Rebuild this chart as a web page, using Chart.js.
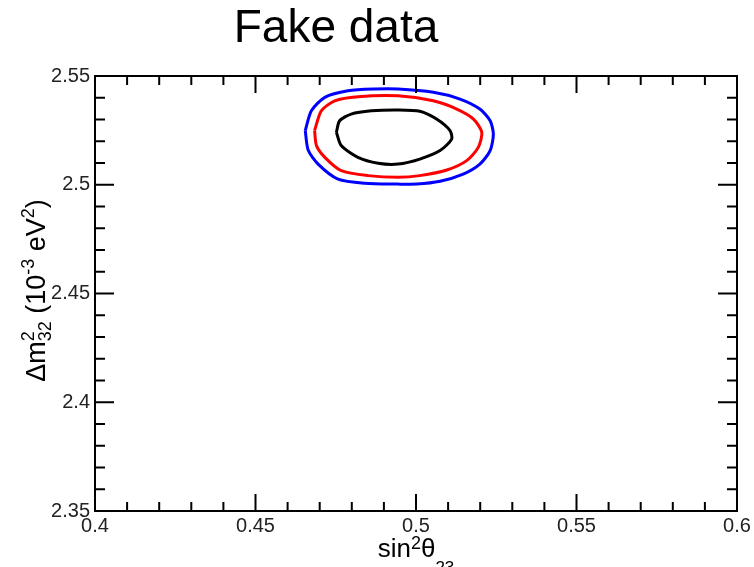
<!DOCTYPE html>
<html>
<head>
<meta charset="utf-8">
<script src="https://cdn.jsdelivr.net/npm/chart.js@4"></script>
<style>
  body { margin: 0; background: #fff; }
  canvas { display: block; }
</style>
</head>
<body>
<canvas id="grafico" width="754" height="567"></canvas>
<script>
// contornos (sin^2 theta23, dm^2_32)
const outerX = [0.4655, 0.4674, 0.4716, 0.4788, 0.4871, 0.4944, 0.5054, 0.5137, 0.5199, 0.5231, 0.5241, 0.5231, 0.5199, 0.5147, 0.5075, 0.5002, 0.4944, 0.4840, 0.4757, 0.4695, 0.4664, 0.4655];
const outerY = [2.5249, 2.5340, 2.5402, 2.5432, 2.5440, 2.5440, 2.5425, 2.5394, 2.5348, 2.5294, 2.5233, 2.5157, 2.5095, 2.5049, 2.5016, 2.5003, 2.5003, 2.5007, 2.5026, 2.5095, 2.5160, 2.5249];

const middleX = [0.4684, 0.4705, 0.4747, 0.4819, 0.4944, 0.5054, 0.5127, 0.5179, 0.5205, 0.5194, 0.5158, 0.5096, 0.5012, 0.4944, 0.4850, 0.4767, 0.4716, 0.4690, 0.4684];
const middleY = [2.5249, 2.5340, 2.5386, 2.5405, 2.5409, 2.5386, 2.5348, 2.5302, 2.5241, 2.5172, 2.5111, 2.5068, 2.5042, 2.5034, 2.5042, 2.5065, 2.5126, 2.5180, 2.5249];

const innerX = [0.4752, 0.4762, 0.4798, 0.4861, 0.4944, 0.5012, 0.5064, 0.5106, 0.5111, 0.5075, 0.5012, 0.4944, 0.4882, 0.4819, 0.4767, 0.4752];
const innerY = [2.5241, 2.5294, 2.5325, 2.5340, 2.5344, 2.5338, 2.5302, 2.5249, 2.5210, 2.5157, 2.5118, 2.5095, 2.5099, 2.5126, 2.5180, 2.5241];

const xMajor = [0.4, 0.45, 0.5, 0.55, 0.6];
const yMajor = [2.35, 2.4, 2.45, 2.5, 2.55];

function pontos(xs, ys) {
  return xs.map((x, i) => ({ x: x, y: ys[i] }));
}

function ehMajor(v, lista) {
  return lista.some(m => Math.abs(m - v) < 1e-6);
}

function rotulo(v, lista) {
  return ehMajor(v, lista) ? String(parseFloat(v.toFixed(2))) : '';
}

// texto com sobrescrito / subscrito
function textoRico(ctx, partes, cx, base) {
  let total = 0;
  partes.forEach(p => {
    ctx.font = p.s + 'px "Liberation Sans"';
    p.w = ctx.measureText(p.t).width;
    if (!p.fica) total += p.w;
  });
  let x = cx - total / 2;
  partes.forEach(p => {
    ctx.font = p.s + 'px "Liberation Sans"';
    ctx.fillText(p.t, x, base + (p.dy || 0));
    if (!p.fica) x += p.w;
  });
}

const moldura = {
  id: 'moldura',
  afterDraw(chart) {
    const { ctx, chartArea: a, scales } = chart;
    ctx.save();
    ctx.strokeStyle = '#000';
    ctx.lineWidth = 2;
    ctx.strokeRect(a.left, a.top, a.right - a.left, a.bottom - a.top);
    ctx.beginPath();
    scales.x.ticks.forEach(t => {
      const p = scales.x.getPixelForValue(t.value);
      const len = ehMajor(t.value, xMajor) ? 17 : 9;
      ctx.moveTo(p, a.bottom); ctx.lineTo(p, a.bottom - len);
      ctx.moveTo(p, a.top); ctx.lineTo(p, a.top + len);
    });
    scales.y.ticks.forEach(t => {
      const p = scales.y.getPixelForValue(t.value);
      const len = ehMajor(t.value, yMajor) ? 19 : 10;
      ctx.moveTo(a.left, p); ctx.lineTo(a.left + len, p);
      ctx.moveTo(a.right, p); ctx.lineTo(a.right - len, p);
    });
    ctx.stroke();

    ctx.fillStyle = '#000';
    ctx.textBaseline = 'alphabetic';
    ctx.textAlign = 'left';

    // titulo
    ctx.font = '46px "Liberation Sans"';
    const tw = ctx.measureText('Fake data').width;
    ctx.fillText('Fake data', 336 - tw / 2, 42);

    // eixo x
    const cx = (a.left + a.right) / 2;
    textoRico(ctx, [
      { t: 'sin', s: 26 },
      { t: '2', s: 18, dy: -8 },
      { t: 'θ', s: 26 },
      { t: '23', s: 17, dy: 16 }
    ], cx, 557);

    // eixo y
    ctx.translate(45, (a.top + a.bottom) / 2 - 3);
    ctx.rotate(-Math.PI / 2);
    textoRico(ctx, [
      { t: 'Δm', s: 27 },
      { t: '2', s: 18, dy: -11, fica: true },
      { t: '32', s: 18, dy: 6 },
      { t: ' (10', s: 27 },
      { t: '-3', s: 18, dy: -11 },
      { t: ' eV', s: 27 },
      { t: '2', s: 18, dy: -11 },
      { t: ')', s: 27 }
    ], 0, 0);
    ctx.restore();
  }
};

function linha(dados, cor) {
  return {
    data: dados,
    showLine: true,
    borderColor: cor,
    backgroundColor: cor,
    borderWidth: 3,
    pointRadius: 0,
    tension: 0.25,
    fill: false
  };
}

const fonteTick = { family: 'Liberation Sans', size: 20 };

new Chart(document.getElementById('grafico'), {
  type: 'scatter',
  data: {
    datasets: [
      linha(pontos(outerX, outerY), '#0000ff'),
      linha(pontos(middleX, middleY), '#ff0000'),
      linha(pontos(innerX, innerY), '#000000')
    ]
  },
  options: {
    responsive: false,
    animation: false,
    layout: { padding: { top: 76, right: 17, left: 0, bottom: 0 } },
    plugins: {
      legend: { display: false },
      tooltip: { enabled: false }
    },
    scales: {
      x: {
        type: 'linear',
        min: 0.4,
        max: 0.6,
        grid: { display: false, drawTicks: false },
        border: { display: false },
        ticks: {
          stepSize: 0.01,
          autoSkip: false,
          maxRotation: 0,
          padding: 3,
          color: '#222',
          font: fonteTick,
          callback: v => rotulo(v, xMajor)
        },
        afterFit: s => { s.height = 56; }
      },
      y: {
        type: 'linear',
        min: 2.35,
        max: 2.55,
        grid: { display: false, drawTicks: false },
        border: { display: false },
        ticks: {
          stepSize: 0.01,
          autoSkip: false,
          padding: 5,
          color: '#222',
          font: fonteTick,
          callback: v => rotulo(v, yMajor)
        },
        afterFit: s => { s.width = 95; }
      }
    }
  },
  plugins: [moldura]
});
</script>
</body>
</html>
